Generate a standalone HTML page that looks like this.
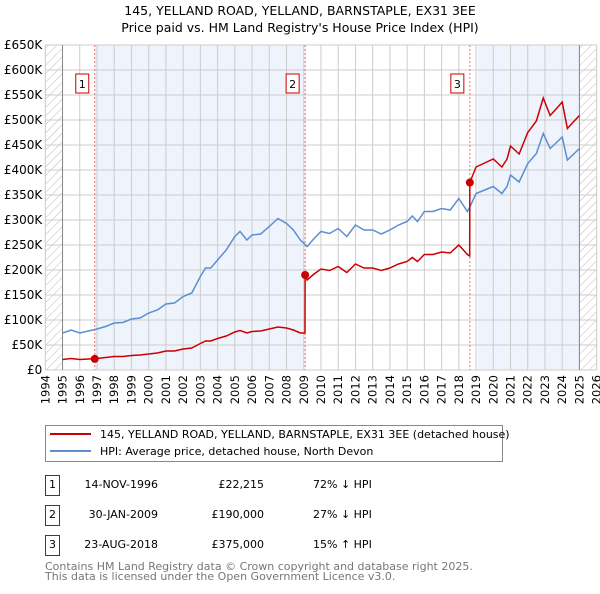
<!DOCTYPE html>
<html><head><meta charset="utf-8"><style>
body{margin:0;background:#fff;font-family:"DejaVu Sans","Liberation Sans",sans-serif}
svg text{font-family:"DejaVu Sans","Liberation Sans",sans-serif}
</style></head><body>
<svg id="chart" width="600" height="590" xmlns="http://www.w3.org/2000/svg">
<defs><pattern id="hatch" width="6" height="6" patternUnits="userSpaceOnUse" patternTransform="rotate(45)"><line x1="0" y1="0" x2="0" y2="6" stroke="#bbb" stroke-width="1"/></pattern></defs>
<text x="300" y="15" text-anchor="middle" font-size="12.5">145, YELLAND ROAD, YELLAND, BARNSTAPLE, EX31 3EE</text>
<text x="300" y="32" text-anchor="middle" font-size="12.5">Price paid vs. HM Land Registry's House Price Index (HPI)</text>
<g id="plot"></g>
<g>
<rect x="45.5" y="425.5" width="457" height="36" fill="#fff" stroke="#888"/>
<line x1="50" y1="434" x2="91" y2="434" stroke="#cc0000" stroke-width="2"/>
<text x="100" y="438" font-size="11">145, YELLAND ROAD, YELLAND, BARNSTAPLE, EX31 3EE (detached house)</text>
<line x1="50" y1="451" x2="91" y2="451" stroke="#5b8fd0" stroke-width="2"/>
<text x="100" y="455" font-size="11">HPI: Average price, detached house, North Devon</text>
</g>
<g font-size="11">
<rect x="45.5" y="475.5" width="14" height="20" fill="none" stroke="#cc0000"/><text x="52.5" y="488" text-anchor="middle">1</text>
<text x="158" y="488" text-anchor="end">14-NOV-1996</text><text x="264" y="488" text-anchor="end">£22,215</text><text x="313" y="488">72% ↓ HPI</text>
<rect x="45.5" y="505.5" width="14" height="20" fill="none" stroke="#cc0000"/><text x="52.5" y="518" text-anchor="middle">2</text>
<text x="158" y="518" text-anchor="end">30-JAN-2009</text><text x="264" y="518" text-anchor="end">£190,000</text><text x="313" y="518">27% ↓ HPI</text>
<rect x="45.5" y="535.5" width="14" height="20" fill="none" stroke="#cc0000"/><text x="52.5" y="548" text-anchor="middle">3</text>
<text x="158" y="548" text-anchor="end">23-AUG-2018</text><text x="264" y="548" text-anchor="end">£375,000</text><text x="313" y="548">15% ↑ HPI</text>
</g>
<text x="45" y="570" font-size="11" fill="#777">Contains HM Land Registry data © Crown copyright and database right 2025.</text>
<text x="45" y="580" font-size="11" fill="#777">This data is licensed under the Open Government Licence v3.0.</text>
</svg>
<script>
const yTicks=[0,50000,100000,150000,200000,250000,300000,350000,400000,450000,500000,550000,600000,650000];
const yTickLabels=["£0","£50K","£100K","£150K","£200K","£250K","£300K","£350K","£400K","£450K","£500K","£550K","£600K","£650K"];
const years=[1994,1995,1996,1997,1998,1999,2000,2001,2002,2003,2004,2005,2006,2007,2008,2009,2010,2011,2012,2013,2014,2015,2016,2017,2018,2019,2020,2021,2022,2023,2024,2025,2026];
const hpiDates=[1995.0,1995.5,1996.0,1996.5,1997.0,1997.5,1998.0,1998.5,1999.0,1999.5,2000.0,2000.5,2001.0,2001.5,2002.0,2002.5,2003.0,2003.3,2003.6,2004.0,2004.5,2005.0,2005.3,2005.7,2006.0,2006.5,2007.0,2007.5,2008.0,2008.4,2008.8,2009.2,2009.6,2010.0,2010.5,2011.0,2011.5,2012.0,2012.5,2013.0,2013.5,2014.0,2014.5,2015.0,2015.3,2015.6,2016.0,2016.5,2017.0,2017.5,2018.0,2018.5,2018.64,2019.0,2019.5,2020.0,2020.5,2020.8,2021.0,2021.5,2022.0,2022.5,2022.9,2023.3,2023.7,2024.0,2024.3,2024.7,2025.0];
const hpiValues=[74,80,74,78,82,87,94,95,102,104,114,120,132,134,147,154,187,204,204,220,240,267,277,260,270,272,287,303,293,280,260,247,263,277,273,283,267,290,280,280,272,280,290,297,308,297,317,317,323,320,343,317,326,353,360,367,353,367,390,376,413,433,473,443,456,466,420,433,443];
const priceDates=[1995.0,1995.5,1996.0,1996.5,1997.0,1997.5,1998.0,1998.5,1999.0,1999.5,2000.0,2000.5,2001.0,2001.5,2002.0,2002.5,2003.0,2003.3,2003.6,2004.0,2004.5,2005.0,2005.3,2005.7,2006.0,2006.5,2007.0,2007.5,2008.0,2008.4,2008.8,2009.07,2009.08,2009.2,2009.6,2010.0,2010.5,2011.0,2011.5,2012.0,2012.5,2013.0,2013.5,2014.0,2014.5,2015.0,2015.3,2015.6,2016.0,2016.5,2017.0,2017.5,2018.0,2018.5,2018.63,2018.64,2019.0,2019.5,2020.0,2020.5,2020.8,2021.0,2021.5,2022.0,2022.5,2022.9,2023.3,2023.7,2024.0,2024.3,2024.7,2025.0];
const priceValues=[21,23,21,22,23,25,27,27,29,30,32,34,38,38,42,44,53,58,58,63,68,76,79,74,77,78,82,86,84,80,74,74,190,180,192,202,199,207,195,212,204,204,199,204,212,217,225,217,231,231,236,234,250,231,228,375,406,414,422,406,422,448,432,475,498,544,509,524,536,483,498,509];
const saleDates=[1996.87,2009.08,2018.64];
const saleValues=[22215,190000,375000];
const saleLabels=["1","2","3"];

const NS="http://www.w3.org/2000/svg";
const X0=45.3,YW=17.23,PT=45,PB=370;
const xS=y=>X0+(y-1994)*YW;
const yS=v=>PB-v/650000*(PB-PT);
const plot=document.getElementById('plot');
function mk(t,a,p){const e=document.createElementNS(NS,t);for(const k in a)e.setAttribute(k,a[k]);(p||plot).appendChild(e);return e;}
const L=xS(1994),R=xS(2026);
let e;
e=mk('rect',{x:L,y:PT,width:R-L,height:PB-PT,fill:'#fff'});


e=mk('rect',{x:xS(saleDates[0]),y:PT,width:xS(saleDates[1])-xS(saleDates[0]),height:PB-PT,fill:'#eef3fc'});


e=mk('rect',{x:xS(2019.1),y:PT,width:xS(2025)-xS(2019.1),height:PB-PT,fill:'#eef3fc'});


e=mk('rect',{x:L,y:PT,width:xS(1995)-L,height:PB-PT,fill:'url(#hatch)'});


e=mk('rect',{x:xS(2025),y:PT,width:R-xS(2025),height:PB-PT,fill:'url(#hatch)'});


years.forEach(y=>{
  e=mk('line',{x1:xS(y),y1:PT,x2:xS(y),y2:PB,stroke:'#ccc','stroke-width':1});
  
  
  const t=mk('text',{x:0,y:0,'font-size':11.5,'text-anchor':'end',transform:`translate(${xS(y)+4},${PB+5}) rotate(-90)`});
  t.textContent=y;
  
  
});
yTicks.forEach((v,i)=>{
  e=mk('line',{x1:L,y1:yS(v),x2:R,y2:yS(v),stroke:'#ccc','stroke-width':1});
  
  
  const t=mk('text',{x:L-3,y:yS(v)+4,'font-size':12,'text-anchor':'end'});
  t.textContent=yTickLabels[i];
  
  
});
[1995,2025].forEach(y=>{e=mk('line',{x1:xS(y),y1:PT,x2:xS(y),y2:PB,stroke:'#888','stroke-width':1});

});
saleDates.forEach((d,i)=>{
  e=mk('line',{x1:xS(d),y1:PT,x2:xS(d),y2:PB,stroke:'#f07070','stroke-width':1,'stroke-dasharray':'2,2'});
  
  
  e=mk('rect',{x:xS(d)-19,y:PT+29,width:13,height:19,fill:'#fff',stroke:'#cc0000'});
  
  
  const t=mk('text',{x:xS(d)-12.5,y:PT+43,'font-size':11,'text-anchor':'middle'});
  t.textContent=saleLabels[i];
  
  
});
e=mk('polyline',{points:hpiDates.map((d,i)=>xS(d)+','+yS(hpiValues[i]*1000)).join(' '),fill:'none',stroke:'#5b8fd0','stroke-width':1.5});


e=mk('polyline',{points:priceDates.map((d,i)=>xS(d)+','+yS(priceValues[i]*1000)).join(' '),fill:'none',stroke:'#cc0000','stroke-width':1.5});


saleDates.forEach((d,i)=>{
  e=mk('circle',{cx:xS(d),cy:yS(saleValues[i]),r:4,fill:'#cc0000'});
  
  
});
</script>
</body></html>
